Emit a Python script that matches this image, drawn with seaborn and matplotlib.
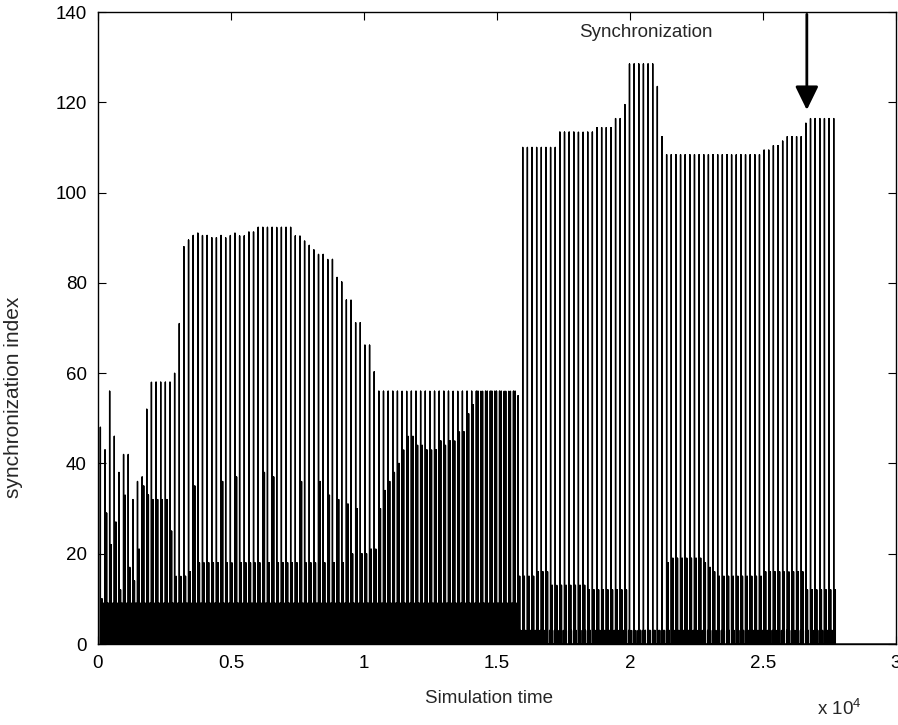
import numpy as np
import pandas as pd
import matplotlib
matplotlib.use("Agg")
import matplotlib.pyplot as plt
import seaborn as sns

# bursts come roughly every 174.5 time steps, first one at t=90
burst_t0 = 90
burst_period = 174.5

# height of the tallest spike of each burst
tall_h = [48, 43, 56, 46, 38, 42, 42, 32, 36, 37,
          52, 58, 58, 58, 58, 58, 60, 71, 88, 89.5,
          90.5, 91, 90.5, 90.5, 90, 90, 90.5, 90, 90.5, 91,
          90.4, 90.4, 91.3, 91.3, 92.3, 92.3, 92.3, 92.3, 92.3, 92.3,
          92.3, 92.3, 90.4, 90.4, 89.3, 88.3, 87.3, 86.3, 86.3, 85.2,
          85.2, 81.2, 80.2, 76.2, 76.2, 71.2, 71.2, 66.2, 66.2, 60.3,
          56, 56, 56, 56, 56, 56, 56, 56, 56, 56,
          56, 56, 56, 56, 56, 56, 56, 56, 56, 56,
          56, 56, 56, 56, 56, 56, 56, 56, 56, 56,
          55,
          110, 110, 110, 110, 110, 110, 110, 110,
          113.4, 113.4, 113.4, 113.4, 113.4, 113.4, 113.4, 113.4,
          114.4, 114.4, 114.4, 114.4,
          116.4, 116.4, 119.5,
          128.5, 128.5, 128.5, 128.5, 128.5, 128.5,
          123.5, 112.4,
          108.4, 108.4, 108.4, 108.4, 108.4, 108.4, 108.4, 108.4, 108.4, 108.4,
          108.4, 108.4, 108.4, 108.4, 108.4, 108.4, 108.4, 108.4, 108.4, 108.4,
          108.4,
          109.4, 109.4, 110.4, 110.4, 111.4,
          112.4, 112.4, 112.4, 112.4,
          115.4,
          116.4, 116.4, 116.4, 116.4, 116.4, 116.4]

# second spike of each burst (fires a little after the tall one)
mid_lag = 60
mid_h = [10, 29, 22, 27, 12, 33, 17, 14, 21, 35, 33, 32, 32, 32, 32, 25, 15, 15, 15, 16, 35,
         18, 18, 18, 18, 18, 36, 18, 18, 37, 18, 18, 18, 18, 18, 38, 18, 37, 18, 18,
         18, 18, 18, 36, 18, 18, 18, 36, 18, 33, 18, 32, 18, 31, 20, 30, 20, 20, 21, 21,
         30, 34, 36, 38, 40, 43, 46, 46, 44, 44, 43, 43, 43, 45, 44, 45, 45, 47, 47, 51,
         53, 56, 56, 56, 56, 56, 56, 56, 56, 56,
         15, 15, 15, 15, 16, 16, 16,
         13, 13, 13, 13, 13, 13, 13, 13,
         12, 12, 12, 12, 12, 12, 12, 12, 12,
         3, 3, 3, 3, 3, 3, 3, 3,
         18, 19, 19, 19, 19, 19, 19, 19, 18, 17, 16,
         15, 15, 15, 15, 15, 15, 15, 15, 15, 15,
         16, 16, 16, 16, 16, 16, 16, 16, 16,
         12, 12, 12, 12, 12, 12, 12]

# dense background activity (many small spikes)
band_start = [150, 15900]
band_end = [15850, 27700]
band_level = [9, 3]
band_step = [30, 90]

x_ticks = [0, 5000, 10000, 15000, 20000, 25000, 30000]
x_ticklabels = ["0", "0.5", "1", "1.5", "2", "2.5", "3"]
y_ticks = [0, 20, 40, 60, 80, 100, 120, 140]

# %%
idx = np.arange(len(tall_h))
tall = pd.DataFrame({"t": burst_t0 + idx * burst_period, "h": tall_h})
mid = pd.DataFrame({"t": burst_t0 + idx * burst_period + mid_lag, "h": mid_h})
bands = []
for s, e, lv, st in zip(band_start, band_end, band_level, band_step):
    tt = np.arange(s, e, st)
    bands.append(pd.DataFrame({"t": tt, "h": np.full(len(tt), lv)}))
spikes = pd.concat([tall, mid] + bands).sort_values("t")

# each spike: up from 0 and back down
sig_t = np.append(np.repeat(spikes["t"].values, 3), 30000)
sig_h = np.append(np.column_stack([np.zeros(len(spikes)), spikes["h"].values,
                                   np.zeros(len(spikes))]).ravel(), 0)
signal = pd.DataFrame({"time": sig_t, "index": sig_h})

# %%
sns.set_style("ticks")
plt.rcParams["font.family"] = ["Liberation Sans", "DejaVu Sans"]
plt.rcParams["mathtext.fontset"] = "custom"
plt.rcParams["mathtext.rm"] = "Liberation Sans"

fig = plt.figure(figsize=(8.98, 7.25), dpi=100)
ax = fig.add_axes([0.1091, 0.1117, 0.8886, 0.8717])

sns.lineplot(data=signal, x="time", y="index", sort=False, estimator=None,
             color="black", linewidth=1.0, ax=ax)

ax.set_xlim(0, 30000)
ax.set_ylim(0, 140)
ax.set_xticks(x_ticks)
ax.set_xticklabels(x_ticklabels)
ax.set_yticks(y_ticks)
ax.tick_params(direction="in", top=True, right=True, length=6, width=0.8,
               labelsize=13.5, pad=8, colors="black")
for sp in ax.spines.values():
    sp.set_linewidth(1.0)
    sp.set_color("black")

ax.set_xlabel("Simulation time", fontsize=13.5)
ax.set_ylabel("synchronization index", fontsize=15)
ax.xaxis.set_label_coords(0.49, -0.072)
ax.yaxis.set_label_coords(-0.094, 0.39)
fig.text(0.935, 0.022, "x 10$^{4}$", fontsize=13.5, ha="center", va="center")

ax.text(20600, 135.4, "Synchronization", fontsize=13.5, ha="center", va="center")
ax.annotate("", xy=(26650, 118.3), xytext=(26650, 139.5),
            arrowprops=dict(arrowstyle="-|>,head_length=0.45,head_width=0.22",
                            mutation_scale=32, lw=2.0, color="black",
                            shrinkA=0, shrinkB=0))

fig.savefig("out.png", dpi=100)
